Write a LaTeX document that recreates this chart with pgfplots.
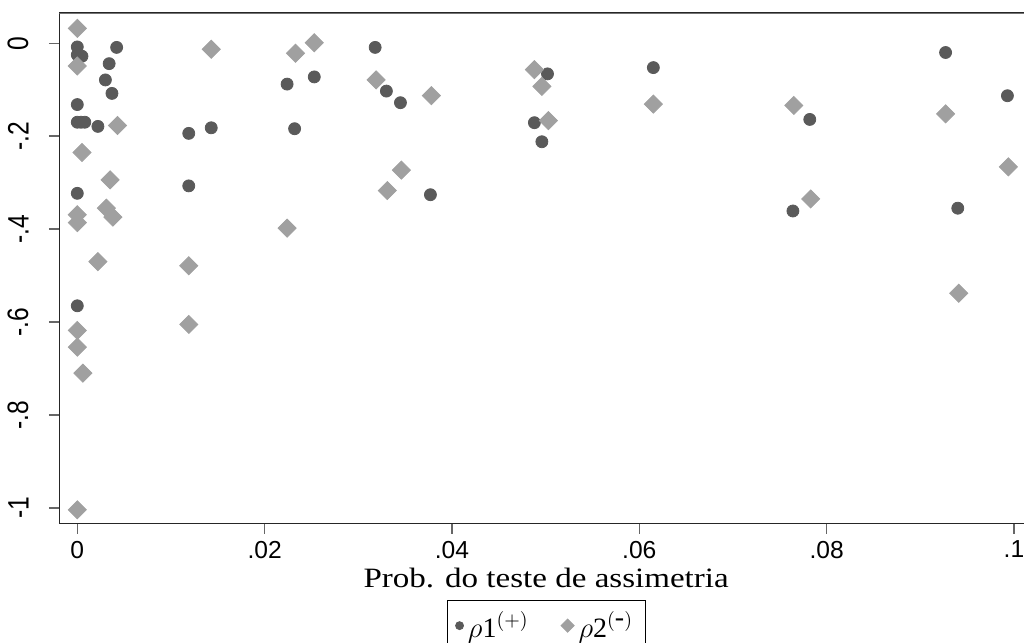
\documentclass[border=0pt]{standalone}
\usepackage{fontspec}
\setmainfont{Liberation Serif}
\newfontfamily\arialfont{Liberation Sans}
\usepackage{pgfplots}
\pgfplotsset{compat=1.18}
\definecolor{dotgray}{RGB}{90,90,90}
\definecolor{diagray}{RGB}{160,160,160}

\begin{document}
\begin{tikzpicture}
\path[use as bounding box, clip] (-29.75pt,-59.85pt) rectangle (482.25pt,261.65pt);
\begin{axis}[
  at={(0,0)}, anchor=south west,
  scale only axis,
  width=486.6pt, height=255.15pt,
  xmin=-0.0019, xmax=0.102,
  ymin=-1.033, ymax=0.065,
  axis line style={black!85, line width=0.7pt},
  xtick={0,0.02,0.04,0.06,0.08,0.1},
  xticklabels={0,.02,.04,.06,.08,.1},
  ytick={-1,-0.8,-0.6,-0.4,-0.2,0},
  yticklabels={-1,-.8,-.6,-.4,-.2,0},
  xtick pos=bottom, ytick pos=left,
  tick align=outside,
  major tick length=5.25pt,
  tick style={black!60, line width=0.7pt},
  ticklabel style={font=\arialfont\fontsize{12.3}{14}\selectfont},
  yticklabel style={rotate=90, yscale=1.2, anchor=south},
  yticklabel shift=6pt,
  xlabel={Prob. do teste de assimetria},
  xlabel style={font=\fontsize{14}{16}\selectfont, xscale=1.18, yshift=2pt},
  legend columns=2,
  legend style={at={(0.5,-0.150)}, anchor=north, draw=black,
    inner ysep=3.5pt, inner xsep=4pt,
    font=\fontsize{14}{16}\selectfont,
    /tikz/every even column/.append style={column sep=14pt}},
]

\addplot[only marks, mark=*, mark size=3pt, color=dotgray,
  legend image code/.code={\fill[dotgray] (0.3cm,0) circle (2pt);}]
  coordinates {
    (0,-0.008) (0,-0.025) (0.0005,-0.028) (0.0042,-0.009) (0.0034,-0.044)
    (0.003,-0.079) (0.0037,-0.108) (0,-0.132) (0,-0.170) (0.0004,-0.170)
    (0.0008,-0.170) (0.0022,-0.179) (0,-0.323) (0,-0.565)
    (0.0119,-0.194) (0.0119,-0.307) (0.0143,-0.182)
    (0.0224,-0.088) (0.0253,-0.0725) (0.0232,-0.184)
    (0.0318,-0.009) (0.033,-0.103) (0.0345,-0.128) (0.0377,-0.326)
    (0.0488,-0.171) (0.0496,-0.212) (0.0502,-0.066)
    (0.0615,-0.0525) (0.0764,-0.361) (0.0782,-0.164)
    (0.0927,-0.020) (0.094,-0.355) (0.0993,-0.113)
  };
\addlegendentry{$\rho\mbox{1}^{(+)}$}

\addplot[only marks, mark=square*, mark size=3.2pt, color=diagray,
  mark options={rotate=45},
  legend image code/.code={\fill[diagray] (0.3cm,0) +(0,3.3pt) -- +(3.3pt,0) -- +(0,-3.3pt) -- +(-3.3pt,0) -- cycle;}]
  coordinates {
    (0,0.032) (0,-0.049) (0.0043,-0.177) (0.0005,-0.235) (0.0035,-0.294)
    (0.0031,-0.355) (0.0038,-0.374) (0,-0.369) (0,-0.386) (0.0022,-0.470)
    (0.0119,-0.479) (0,-0.618) (0,-0.654) (0.0006,-0.710) (0.0119,-0.605)
    (0,-1.004) (0.0143,-0.013) (0.0233,-0.0215) (0.0253,0.001)
    (0.0224,-0.398) (0.0319,-0.079) (0.0331,-0.317) (0.0346,-0.273)
    (0.0378,-0.113) (0.0488,-0.057) (0.0496,-0.093) (0.0503,-0.1665)
    (0.0615,-0.131) (0.0765,-0.134) (0.0783,-0.335) (0.0927,-0.152)
    (0.0941,-0.538) (0.0994,-0.266)
  };
\addlegendentry{$\rho\mbox{2}^{(\mbox{-})}$}

\draw[black!55, line width=0.7pt] (rel axis cs:0,1) -- (rel axis cs:1,1);
\end{axis}
\end{tikzpicture}
\end{document}
